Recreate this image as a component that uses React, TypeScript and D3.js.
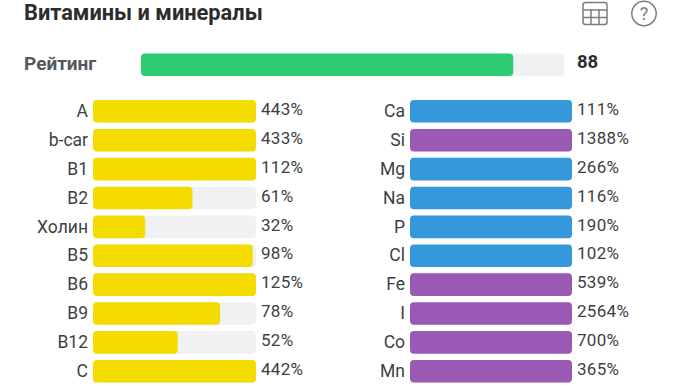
import React from "react";
import * as d3 from "d3";

const title = "Витамины и минералы";
const ratingLabel = "Рейтинг";
const ratingValue = 88;
const vitaminNames = ["A", "b-car", "B1", "B2", "Холин", "B5", "B6", "B9", "B12", "C"];
const vitaminValues = [443, 433, 112, 61, 32, 98, 125, 78, 52, 442];
const mineralNames = ["Ca", "Si", "Mg", "Na", "P", "Cl", "Fe", "I", "Co", "Mn"];
const mineralValues = [111, 1388, 266, 116, 190, 102, 539, 2564, 700, 365];
const mineralColors = ["#3498db", "#9b59b6", "#3498db", "#3498db", "#3498db", "#3498db", "#9b59b6", "#9b59b6", "#9b59b6", "#9b59b6"];

const TRACK = "#f0f1f3";
const FONT = "Roboto, sans-serif";

const rows = d3.scaleLinear().domain([0, 9]).range([100, 360]);
const BAR_H = 22.6;

function Column({ names, values, colors, x0, x1 }: { names: string[]; values: number[]; colors: string[]; x0: number; x1: number }) {
  const x = d3.scaleLinear().domain([0, 100]).range([x0, x1]).clamp(true);
  return (
    <g>
      {names.map((n, i) => {
        const y = rows(i);
        return (
          <g key={n}>
            <rect x={x0} y={y} width={x1 - x0} height={BAR_H} rx={4} fill={TRACK} />
            <rect x={x0} y={y} width={x(values[i]) - x0} height={BAR_H} rx={4} fill={colors[i]} />
            <text x={x0 - 5} y={y + 17} textAnchor="end" fontSize={17.5} fill="#3d3f42" fontFamily={FONT}>{n}</text>
            <text x={x1 + 5} y={y + 15} fontSize={17} fill="#3d3f42" letterSpacing={0.3} fontFamily={FONT}>{values[i]}%</text>
          </g>
        );
      })}
    </g>
  );
}

export default function App() {
  const rx = d3.scaleLinear().domain([0, 100]).range([141, 564]);
  return (
    <svg width={680} height={386} style={{ position: "fixed", left: 0, top: 0, background: "#fff" }}>
      <text x={24} y={20} fontSize={21.8} fontWeight={700} fill="#2b2c2e" fontFamily={FONT}>{title}</text>
      <text x={24} y={70} fontSize={19} fontWeight={700} fill="#55585c" fontFamily={FONT}>{ratingLabel}</text>
      <rect x={rx(0)} y={53.5} width={rx(100) - rx(0)} height={22.5} rx={4} fill={TRACK} />
      <rect x={rx(0)} y={53.5} width={rx(ratingValue) - rx(0)} height={22.5} rx={4} fill="#2ecc71" />
      <text x={577} y={68} fontSize={18.5} fontWeight={700} fill="#2b2c2e" fontFamily={FONT}>{ratingValue}</text>
      <Column names={vitaminNames} values={vitaminValues} colors={vitaminNames.map(() => "#f4dc00")} x0={93} x1={256} />
      <Column names={mineralNames} values={mineralValues} colors={mineralColors} x0={410} x1={572} />
      <g fill="none" stroke="#7b7e82" strokeWidth={1.5}>
        <rect x={583} y={2.5} width={24} height={22} rx={2.5} />
        <path d="M583 10h24M583 17.5h24M591 10v14.5M599 10v14.5" />
        <circle cx={644} cy={13.5} r={12.2} />
      </g>
      <text x={644} y={20} textAnchor="middle" fontSize={18} fill="#7b7e82" fontFamily={FONT}>?</text>
    </svg>
  );
}
